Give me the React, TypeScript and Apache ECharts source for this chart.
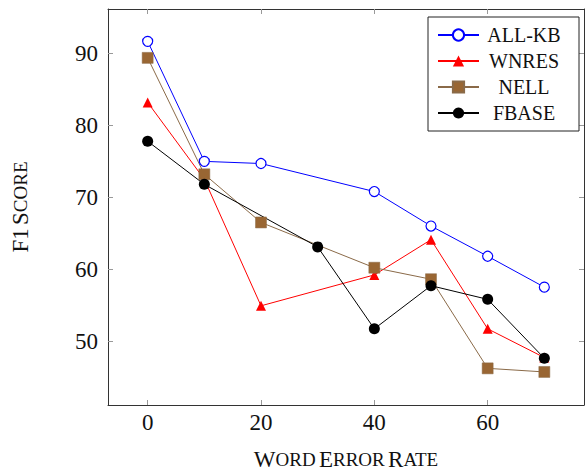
import React, { useEffect, useRef } from "react";
import * as echarts from "echarts";

const seriesNames = ["ALL-KB", "WNRES", "NELL", "FBASE"];
const xAllKB = [0, 10, 20, 40, 50, 60, 70];
const yAllKB = [91.7, 75.0, 74.7, 70.8, 66.0, 61.8, 57.5];
const xWnres = [0, 10, 20, 40, 50, 60, 70];
const yWnres = [83.2, 72.5, 54.9, 59.2, 64.1, 51.7, 47.7];
const xNell = [0, 10, 20, 40, 50, 60, 70];
const yNell = [89.4, 73.2, 66.5, 60.2, 58.6, 46.2, 45.7];
const xFbase = [0, 10, 30, 40, 50, 60, 70];
const yFbase = [77.8, 71.8, 63.1, 51.7, 57.7, 55.8, 47.6];
const xTicks = [0, 20, 40, 60];
const yTicks = [50, 60, 70, 80, 90];

const pairs = (xs: number[], ys: number[]) => xs.map((x, i) => [x, ys[i]]);

const FONT = "'Liberation Serif', 'DejaVu Serif', serif";

export default function App() {
  const ref = useRef<HTMLDivElement>(null);
  useEffect(() => {
    if (!ref.current) return;
    const chart = echarts.init(ref.current, undefined, { renderer: "svg" });
    const axisLine = { show: true, onZero: false, lineStyle: { color: "#333", width: 1 } };
    const tickStyle = { color: "#999", width: 1 };
    const xMin = -7, xMax = 77, yMin = 41.1, yMax = 96.2;
    const capsRich = {
      b: { fontFamily: FONT, fontSize: 23, color: "#111" },
      s: { fontFamily: FONT, fontSize: 19, color: "#111" },
    };
    chart.setOption({
      animation: false,
      backgroundColor: "#fff",
      grid: { left: 108, right: 1, top: 9, bottom: 66, outerBoundsMode: "none", containLabel: false },
      legend: {
        orient: "vertical",
        left: 428,
        top: 17,
        padding: [8, 15, 8, 9],
        itemWidth: 41,
        itemHeight: 14,
        itemGap: 6,
        borderColor: "#222",
        borderWidth: 1,
        borderRadius: 0,
        backgroundColor: "#fff",
        data: seriesNames,
        formatter: (n: string) => `{a|${n}}`,
        textStyle: {
          rich: {
            a: { width: 80, align: "center", fontFamily: FONT, fontSize: 20, lineHeight: 20, color: "#111" },
          },
        },
      },
      xAxis: [
        {
          type: "value",
          position: "bottom",
          min: xMin,
          max: xMax,
          axisLine,
          splitLine: { show: false },
          axisTick: { show: true, inside: true, length: 5, lineStyle: tickStyle, customValues: xTicks },
          axisLabel: { customValues: xTicks, margin: 6, fontFamily: FONT, fontSize: 23, color: "#111" },
          name: "{b|W}{s|ORD} {b|E}{s|RROR} {b|R}{s|ATE}",
          nameLocation: "middle",
          nameGap: 43,
          nameTextStyle: { rich: capsRich },
        },
        {
          type: "value",
          position: "top",
          min: xMin,
          max: xMax,
          axisLine,
          splitLine: { show: false },
          axisTick: { show: true, inside: true, length: 5, lineStyle: tickStyle, customValues: xTicks },
          axisLabel: { show: false },
        },
      ],
      yAxis: [
        {
          type: "value",
          position: "left",
          min: yMin,
          max: yMax,
          axisLine,
          splitLine: { show: false },
          axisTick: { show: true, inside: true, length: 5, lineStyle: tickStyle, customValues: yTicks },
          axisLabel: { customValues: yTicks, margin: 10, fontFamily: FONT, fontSize: 23, color: "#111" },
          name: "{b|F1} {b|S}{s|CORE}",
          nameLocation: "middle",
          nameGap: 76,
          nameRotate: 90,
          nameTextStyle: { rich: capsRich },
        },
        {
          type: "value",
          position: "right",
          min: yMin,
          max: yMax,
          axisLine,
          splitLine: { show: false },
          axisTick: { show: true, inside: true, length: 5, lineStyle: tickStyle, customValues: yTicks },
          axisLabel: { show: false },
        },
      ],
      series: [
        {
          name: "ALL-KB",
          type: "line",
          data: pairs(xAllKB, yAllKB),
          symbol: "circle",
          symbolSize: 10,
          lineStyle: { color: "#0000ff", width: 1 },
          itemStyle: { color: "#ffffff", borderColor: "#0000ff", borderWidth: 1.2 },
        },
        {
          name: "WNRES",
          type: "line",
          data: pairs(xWnres, yWnres),
          symbol: "triangle",
          symbolSize: 10,
          lineStyle: { color: "#ff0000", width: 1 },
          itemStyle: { color: "#ff0000" },
        },
        {
          name: "NELL",
          type: "line",
          data: pairs(xNell, yNell),
          symbol: "rect",
          symbolSize: 11,
          lineStyle: { color: "#8a6a48", width: 1 },
          itemStyle: { color: "#996633", borderColor: "#8a6a48", borderWidth: 0.5 },
        },
        {
          name: "FBASE",
          type: "line",
          data: pairs(xFbase, yFbase),
          symbol: "circle",
          symbolSize: 11,
          lineStyle: { color: "#000000", width: 1 },
          itemStyle: { color: "#000000" },
        },
      ],
    });
    return () => chart.dispose();
  }, []);
  return (
    <div
      ref={ref}
      style={{ position: "absolute", left: 0, top: 0, width: 585, height: 471 }}
    />
  );
}
